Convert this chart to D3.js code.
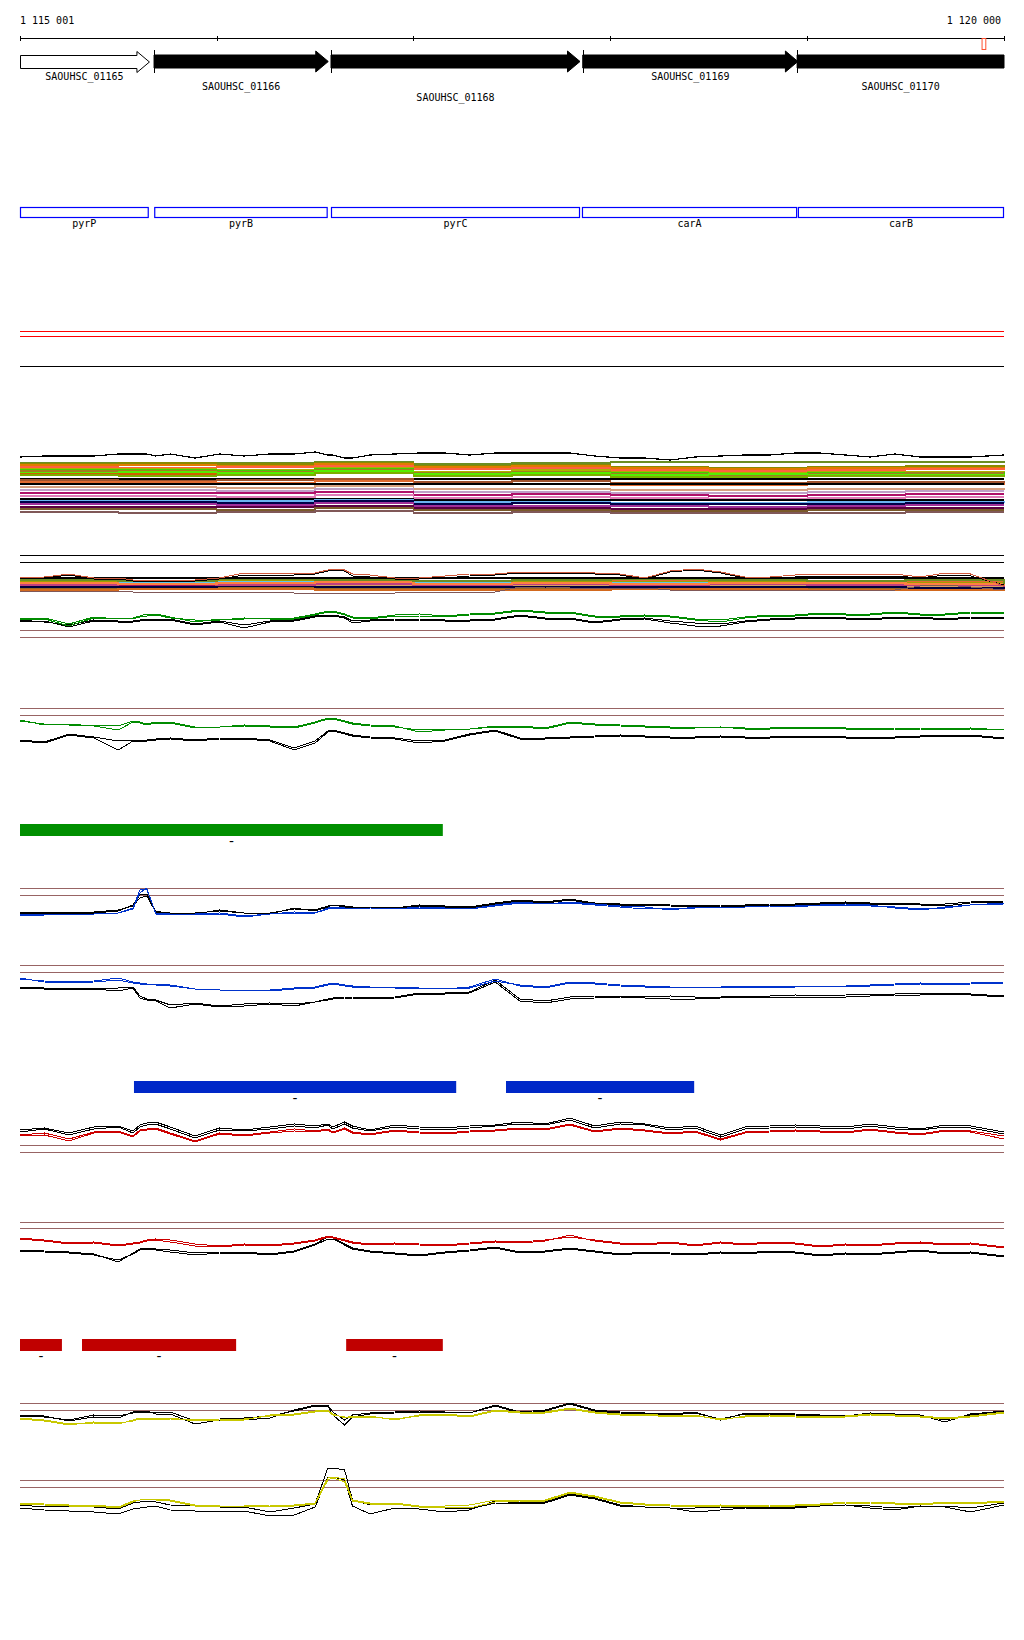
<!DOCTYPE html>
<html>
<head>
<meta charset="utf-8">
<script src="https://cdn.jsdelivr.net/npm/d3@7"></script>
<style>
  body { margin: 0; background: #fff; }
  svg { display: block; font-family: "DejaVu Sans Mono", monospace; font-size: 10px; }
  path, line { shape-rendering: crispEdges; }
</style>
</head>
<body>
<div id="chart"></div>
<script>
// region shown
const START = 1115001, END = 1120000;
const rulerTicks = [1115001, 1116000, 1117000, 1118000, 1119000, 1120000];
const redMarkStart = 1119886, redMarkEnd = 1119905;

// genes
const geneNames = ["SAOUHSC_01165", "SAOUHSC_01166", "SAOUHSC_01168", "SAOUHSC_01169", "SAOUHSC_01170"];
const geneStarts = [1114950, 1115682, 1116581, 1117860, 1118949];
const geneEnds = [1115656, 1116567, 1117846, 1118953, 1120150];
const geneFilled = [false, true, true, true, true];
const geneLabelRow = [0, 1, 2, 0, 1];

// operon / gene names
const nameLabels = ["pyrP", "pyrB", "pyrC", "carA", "carB"];
const nameStarts = [1114950, 1115683, 1116581, 1117856, 1118953];
const nameEnds = [1115655, 1116564, 1117846, 1118949, 1120150];

// feature bars
const greenStarts = [1114950], greenEnds = [1117149], greenLabels = ["-"];
const blueStarts = [1115580, 1117470], blueEnds = [1117217, 1118426], blueLabels = ["-", "-"];
const redStarts = [1114950, 1115316, 1116658], redEnds = [1115214, 1116099, 1117149], redLabels = ["-", "-", "-"];

// sample positions for the profile lines
const samplePos = [1115001,1115125,1115250,1115375,1115500,1115575,1115610,1115645,1115690,1115765,
  1115890,1116015,1116140,1116270,1116395,1116500,1116565,1116590,1116650,1116690,
  1116780,1116905,1117030,1117160,1117285,1117415,1117540,1117670,1117795,1117920,
  1118050,1118175,1118305,1118430,1118560,1118685,1118810,1118940,1119065,1119195,
  1119320,1119445,1119575,1119700,1119830,1120000];
// coarse positions for the stacked sample lines
const bandPos = [1115001,1115500,1116000,1116500,1117000,1117500,1118000,1118500,1119000,1119500,1120000];

// top reference lines
const topRedRefs = [39, 34];
const topBlackRefs = [4];

// stacked band A
const bandATop = [63,64,64,64,66,66,66,66,64,66, 62,66,64,66,66,68,65,65,62,62,
  65,66,67,67,65,67,67,67,67,64, 62,62,60,63,64,65,65,67,67,65, 63,66,63,63,63,65];
const bandAColors = ["#6b8e23","#8a8a00","#e07b00","#ff6040","#b0b000","#44cc00","#a08020","#55ee00","#d06000","#7cae00",
  "#000000","#a0522d","#e06a30","#000000","#d8a080","#c0a0c8","#b0106a","#e07cb8","#000000","#6cb4f0",
  "#000048","#a0309a","#5a0040","#7a5a2a","#805858"];
const bandAValues = [
  [57,57,57,58,56,57,58,58,58,58,59],
  [56,57,56,57,54,55,53,52,53,54,55],
  [55,55,54,56,53,54,52,51,52,52,53],
  [53,52,53,54,51,52,50,49,50,51,50],
  [51,51,50,52,48,50,48,47,48,48,49],
  [50,50,49,51,47,48,47,46,47,47,48],
  [49,49,48,50,47,48,46,45,46,47,47],
  [47,48,47,49,46,47,45,46,45,45,46],
  [46,46,45,47,44,45,43,43,44,44,45],
  [45,44,45,47,44,45,43,43,44,44,45],
  [41,41,41,41,41,41,41,41,41,41,41],
  [40,39,40,41,38,39,37,37,38,38,39],
  [38,38,37,39,36,36,35,35,36,36,37],
  [36,36,36,36,36,36,36,36,36,36,36],
  [33,33,32,34,31,31,30,30,31,31,32],
  [30,30,29,31,28,28,27,27,28,29,29],
  [27,27,27,28,25,26,25,24,25,26,26],
  [24,24,23,25,22,23,22,21,22,23,23],
  [21,21,21,21,20,20,20,20,20,20,20],
  [19,19,19,20,18,18,17,17,18,18,19],
  [18,18,17,19,16,17,16,16,16,17,17],
  [16,16,15,17,14,14,14,13,14,15,15],
  [13,13,13,14,12,12,11,11,12,12,12],
  [11,11,10,12,10,10,9,9,10,10,10],
  [8,7,8,9,7,8,7,7,7,8,8]
];

// stacked band B
const bandBRefs = [45, 38];
const bandBUpper = [22,23,26,22,22,20,20,20,20,20, 20,22,27,27,26,27,30,31,30,26,
  25,22,22,24,26,26,28,27,28,27, 26,22,29,31,28,23,23,25,26,26, 26,26,23,27,26,14];
const bandBBlack = [21,22,25,21,21,19,19,19,19,19, 19,21,25,25,25,26,29,30,29,24,
  23,21,21,22,24,25,27,26,27,26, 25,21,28,30,27,22,22,23,24,24, 24,24,22,25,24,15];
const bandBLower = [9,9,9,9,9,8,8,8,8,8, 8,8,8,8,7,7,7,7,7,7,
  7,7,8,8,8,8,13,13,12,12, 12,12,10,10,10,10,10,10,10,10, 10,10,14,15,13,10];
const bandBFlat = [22,22,22,22,22,22,22,22,22,22,22];
const bandBColors = ["#e06a30","#a0a000","#5ec8f0","#b4a0c8","#88c400","#d8a060","#a01060","#e0703a","#9a6a20","#000040","#c04080","#ff8040","#6b8e23","#d2691e"];
const bandBValues = [
  [19,18,20,19,18,19,20,19,18,19,17],
  [18,17,19,18,17,18,18,18,17,17,15],
  [17,17,18,17,17,17,17,17,17,16,14],
  [16,16,17,16,16,16,16,16,16,15,13],
  [15,15,16,15,15,15,15,15,15,14,12],
  [14,14,15,14,14,14,14,14,14,13,11],
  [13,14,13,13,13,13,13,13,13,12,11],
  [12,12,13,12,12,12,12,13,12,12,10],
  [11,12,12,11,11,11,12,12,11,11,10],
  [13,13,14,13,13,13,13,13,13,12,11],
  [15,16,15,16,15,16,15,16,15,15,13],
  [17,16,17,18,16,17,16,17,17,16,14],
  [20,19,21,20,19,20,21,20,19,20,16],
  [10,11,11,10,10,10,11,11,10,10,9]
];

// profile tracks (values: signal above each track's zero)
const trackCRefs = [10, 3];
const trackCGreenA = [22,22,16,23,21,22,24,26,26,23, 18,21,21,22,22,26,29,29,26,23, 22,25,26,24,26,27,30,28,28,24, 24,25,24,21,20,23,25,25,27,26, 26,28,26,26,28,28];
const trackCGreenB = [21,21,14,22,22,21,23,24,25,22, 20,20,22,21,21,25,28,28,25,22, 21,24,24,23,25,26,29,27,27,23, 23,24,23,20,18,22,24,24,26,25, 25,27,25,25,27,27];
const trackCBlackA = [20,18,15,20,19,19,20,21,21,21, 16,19,15,19,20,24,25,25,23,19, 20,21,21,20,20,21,25,22,22,18, 21,22,19,17,16,19,21,22,23,22, 21,23,23,21,23,23];
const trackCBlackB = [19,19,13,19,18,18,19,20,20,20, 15,18,12,18,19,23,24,24,22,17, 19,20,20,19,19,20,24,21,21,17, 20,21,17,14,14,18,20,21,22,21, 20,22,22,20,22,22];

const trackDRefs = [52, 45];
const trackDGreenA = [39,36,35,35,34,39,38,36,38,38, 33,33,35,34,33,38,42,42,39,37, 35,34,28,30,31,34,34,32,38,36, 35,34,33,33,33,32,32,33,33,32, 31,32,32,31,32,30];
const trackDGreenB = [40,35,36,34,30,38,37,35,37,37, 32,33,34,33,32,37,41,41,38,36, 34,33,30,31,31,33,33,31,37,35, 34,33,32,32,33,31,31,32,32,31, 30,31,31,30,31,30];
const trackDBlackA = [20,18,26,23,19,20,20,20,21,22, 20,22,22,20,12,19,29,30,27,25, 23,22,19,20,26,30,22,22,23,24, 25,24,23,23,24,23,23,24,24,23, 23,23,24,25,25,22];
const trackDBlackB = [19,17,25,22,10,19,19,19,20,21, 19,21,21,19,10,17,28,29,26,24, 22,21,17,19,25,29,21,21,22,23, 24,23,22,22,23,22,22,23,23,22, 22,22,23,24,24,21];

const trackERefs = [37, 30];
const trackEBlackA = [12,12,13,13,15,19,27,29,13,12, 12,14,12,12,16,15,19,20,19,18, 18,17,20,19,18,22,25,23,26,22, 21,21,20,19,20,20,21,21,22,23, 22,22,21,21,23,24];
const trackEBlackB = [13,12,12,12,14,20,30,31,14,11, 11,15,12,11,17,14,18,20,18,17, 17,16,19,18,17,21,24,22,25,21, 20,20,19,18,19,19,20,20,21,22, 21,21,20,19,22,23];
const trackEBlueA = [11,11,11,11,12,17,35,36,12,11, 11,12,9,11,13,12,17,18,17,17, 17,16,18,17,16,20,23,21,23,21, 19,18,15,18,18,18,19,19,20,21, 20,17,15,18,20,22];
const trackEBlueB = [10,10,11,11,12,16,32,37,11,10, 11,11,8,11,12,12,16,17,17,16, 17,16,17,17,16,19,22,21,22,20, 18,16,17,17,18,18,19,18,20,20, 19,18,16,17,20,21];

const trackFRefs = [50, 43];
const trackFBlackA = [28,27,27,27,27,28,19,16,15,10, 12,9,11,12,11,13,16,17,18,18, 17,18,22,22,23,35,16,14,18,19, 19,18,19,18,18,19,19,20,19,20, 21,21,22,22,21,19];
const trackFBlackB = [27,26,26,26,24,27,17,15,14,7, 11,8,9,11,9,13,15,16,17,17, 16,17,21,21,22,33,14,12,16,17, 18,17,16,16,17,18,18,17,18,18, 19,20,20,21,20,18];
const trackFBlueA = [36,34,33,34,37,33,32,31,31,30, 26,25,25,25,27,28,31,32,30,29, 28,28,27,27,27,34,30,28,33,32, 30,29,28,28,28,29,29,28,29,29, 30,31,32,31,32,33];
const trackFBlueB = [37,33,32,33,35,32,31,31,30,29, 26,25,25,24,26,27,30,31,29,28, 28,27,27,26,28,36,29,27,32,31, 29,28,28,28,28,28,28,28,29,28, 29,30,31,30,31,32];

const trackGRefs = [15, 8];
const trackGBlackA = [30,32,27,33,34,29,35,37,38,33, 24,32,30,33,36,34,36,33,38,34, 30,35,33,32,34,35,38,36,42,34, 38,36,32,34,25,33,34,35,34,33, 36,33,31,35,34,28];
const trackGBlackB = [28,31,25,31,33,27,33,35,36,31, 22,30,29,31,34,32,35,31,36,32, 29,33,31,30,32,34,36,35,40,32, 36,35,30,32,23,31,32,33,32,31, 34,31,30,33,32,26];
const trackGRedA = [25,27,21,28,29,24,30,31,32,27, 19,27,25,28,31,29,31,28,32,28, 26,30,28,27,29,30,32,31,36,29, 32,30,27,29,21,28,29,30,29,28, 31,28,26,30,29,24];
const trackGRedB = [24,25,19,27,28,23,29,30,31,26, 18,26,24,27,29,28,30,27,31,27, 25,29,27,26,28,29,31,30,35,28, 31,29,26,28,20,27,28,29,28,27, 30,27,25,29,28,21];

const trackHRefs = [48, 42];
const trackHRedA = [32,30,27,28,25,27,28,30,31,30, 26,24,26,25,27,30,34,33,30,28, 26,27,26,25,27,29,28,30,33,30, 27,26,28,25,28,26,28,27,24,26, 25,27,28,26,27,23];
const trackHRedB = [31,29,26,27,24,26,27,29,30,28, 24,23,25,24,26,29,33,32,29,27, 25,26,25,24,26,28,27,29,35,29, 26,25,27,24,27,25,27,26,23,25, 24,26,27,25,26,22];
const trackHBlackA = [20,19,18,16,8,17,21,22,21,20, 17,18,18,16,19,26,33,32,26,22, 19,17,15,18,20,23,18,19,22,19, 16,18,17,16,18,17,19,18,15,17, 16,18,20,17,18,14];
const trackHBlackB = [19,18,17,15,10,16,20,21,20,18, 15,17,17,15,18,25,31,31,25,21, 18,16,14,17,19,22,17,18,21,18, 15,17,16,15,17,16,18,17,14,16, 15,17,19,16,17,13];

const trackIRefs = [32, 25];
const trackIBlackA = [20,19,14,18,17,23,24,24,21,21, 11,15,15,17,25,30,30,23,15,20, 22,23,24,23,22,30,23,25,32,25, 23,22,21,23,15,22,22,21,20,19, 22,21,20,13,21,24];
const trackIBlackB = [19,18,15,20,19,22,23,23,22,23, 14,16,17,19,24,29,29,20,10,18, 21,22,23,23,22,29,22,24,31,24, 22,21,20,22,16,21,21,20,19,18, 21,20,19,15,20,23];
const trackIYellowA = [17,15,11,12,11,15,17,17,17,17, 14,15,15,20,21,24,25,21,17,19, 19,15,20,21,19,25,23,23,27,23, 21,21,19,20,15,19,20,19,18,19, 21,20,19,17,19,23];
const trackIYellowB = [16,14,10,13,12,14,16,16,16,16, 15,16,16,19,20,23,24,20,18,18, 18,16,19,20,18,24,22,22,26,22, 20,20,18,19,16,18,19,18,17,18, 20,19,18,16,18,22];

const trackJRefs = [40, 33];
const trackJBlackA = [15,13,14,13,11,17,18,19,18,15, 14,13,13,8,12,16,52,52,50,20, 15,16,14,12,11,17,16,17,25,21, 14,13,12,12,13,13,13,13,14,15, 14,12,14,14,12,17];
const trackJBlackB = [12,10,9,8,6,11,12,13,14,10, 9,9,9,4,5,13,43,43,40,14, 6,12,11,8,10,19,17,18,26,22, 15,13,12,8,10,12,11,12,14,15, 12,10,14,13,8,15];
const trackJYellowA = [17,16,15,15,13,19,20,21,21,20, 15,14,14,15,15,17,42,43,41,20, 17,17,14,14,15,20,20,20,28,24, 18,16,15,14,15,14,15,15,16,18, 18,17,16,18,17,19];
const trackJYellowB = [16,15,14,14,12,18,20,21,20,19, 14,14,14,14,14,16,40,42,38,19, 16,16,13,13,12,18,19,19,27,23, 17,15,14,13,14,13,14,14,15,17, 17,16,15,17,16,18];

// ---- drawing ----
const BROWN = "#986464", GREEN = "#008c00", BLUE = "#0033cc", RED = "#cc0000", YELLOW = "#c8c800";

const x = d3.scaleLinear().domain([START, END]).range([20, 1004]).clamp(true);
const fmt = v => d3.format(",")(v).replace(/,/g, " ");

const svg = d3.select("#chart").append("svg")
  .attr("width", 1024)
  .attr("height", 1640);

// ruler
svg.append("line")
  .attr("x1", x(START)).attr("x2", x(END))
  .attr("y1", 38.5).attr("y2", 38.5)
  .attr("stroke", "#000");
svg.selectAll(".rtick").data(rulerTicks).join("line")
  .attr("class", "rtick")
  .attr("x1", d => Math.round(x(d)) + 0.5).attr("x2", d => Math.round(x(d)) + 0.5)
  .attr("y1", 36).attr("y2", 41)
  .attr("stroke", "#000");
svg.append("text").attr("x", x(START)).attr("y", 24).text(fmt(START));
svg.append("text").attr("x", x(END) - 3).attr("y", 24).attr("text-anchor", "end").text(fmt(END));
svg.append("rect")
  .attr("x", x(redMarkStart) + 0.5).attr("y", 38.5)
  .attr("width", x(redMarkEnd) - x(redMarkStart)).attr("height", 11)
  .attr("fill", "#fff").attr("stroke", "#ff5030");

// genes
const genes = geneNames.map((n, i) => ({
  name: n, start: geneStarts[i], end: geneEnds[i], filled: geneFilled[i], row: geneLabelRow[i]
}));

function arrowPoints(d) {
  const x0 = x(d.start), x1 = x(d.end);
  if (d.end > END) return [[x0, 55], [x1, 55], [x1, 68], [x0, 68]];
  const hx = x1 - 12.5;
  return [[x0, 55], [hx, 55], [hx, 51], [x1, 61.5], [hx, 72], [hx, 68], [x0, 68]];
}

const gGenes = svg.append("g");
gGenes.selectAll("polygon").data(genes).join("polygon")
  .attr("points", d => arrowPoints(d).map(p => p.join(",")).join(" "))
  .attr("fill", d => d.filled ? "#000" : "#fff")
  .attr("stroke", "#000")
  .attr("stroke-width", 1)
  .attr("transform", d => d.filled ? null : "translate(0.5,0.5)");
gGenes.selectAll(".gtick").data(genes.filter(d => d.filled && d.start >= START)).join("line")
  .attr("class", "gtick")
  .attr("x1", d => Math.round(x(d.start)) + 0.5).attr("x2", d => Math.round(x(d.start)) + 0.5)
  .attr("y1", 50).attr("y2", 73)
  .attr("stroke", "#000");
const rowBase = [80, 89.5, 101];
gGenes.selectAll("text").data(genes).join("text")
  .attr("x", d => (x(d.start) + x(d.end)) / 2)
  .attr("y", d => rowBase[d.row])
  .attr("text-anchor", "middle")
  .text(d => d.name);

// gene names boxes
const names = nameLabels.map((n, i) => ({ name: n, start: nameStarts[i], end: nameEnds[i] }));
const gNames = svg.append("g");
gNames.selectAll("rect").data(names).join("rect")
  .attr("x", d => x(d.start) + 0.5)
  .attr("y", 207.5)
  .attr("width", d => x(d.end) - x(d.start) - 1)
  .attr("height", 10)
  .attr("fill", "none")
  .attr("stroke", "#0000ff")
  .attr("stroke-width", 1.2);
gNames.selectAll("text").data(names).join("text")
  .attr("x", d => (x(d.start) + x(d.end)) / 2)
  .attr("y", 227)
  .attr("text-anchor", "middle")
  .text(d => d.name);

// generic horizontal reference lines
function refLines(values, base, color) {
  const y = d3.scaleLinear().domain([0, 100]).range([base, base - 100]);
  svg.append("g").selectAll("line").data(values).join("line")
    .attr("x1", x(START)).attr("x2", x(END))
    .attr("y1", d => Math.round(y(d)) + 0.5).attr("y2", d => Math.round(y(d)) + 0.5)
    .attr("stroke", color);
}

function profile(values, pos, base, color, width, curve) {
  const y = d3.scaleLinear().domain([0, 100]).range([base, base - 100]);
  const line = d3.line()
    .x((d, i) => x(pos[i]))
    .y(d => y(d))
    .curve(curve || d3.curveLinear);
  svg.append("path")
    .datum(values)
    .attr("d", line)
    .attr("fill", "none")
    .attr("stroke", color)
    .attr("stroke-width", width || 1);
}

// top reference lines
refLines(topRedRefs, 370, "#ff0000");
refLines(topBlackRefs, 370, "#000");

// band A
bandAValues.forEach((v, i) => profile(v, bandPos, 520, bandAColors[i], 1.3, d3.curveStepAfter));
profile(bandATop, samplePos, 520, "#000", 1.2);

// band B
refLines(bandBRefs, 600, "#000");
bandBValues.forEach((v, i) => profile(v, bandPos, 600, bandBColors[i], 2.4, d3.curveStepAfter));
profile(bandBFlat, bandPos, 600, "#000", 2, d3.curveStepAfter);
profile(bandBLower, samplePos, 600, "#805858", 1);
profile(bandBBlack, samplePos, 600, "#000", 1);
profile(bandBUpper, samplePos, 600, "#d05a3c", 1);

// profile tracks
const tracks = [
  { base: 640, refs: trackCRefs, black: [trackCBlackA, trackCBlackB], col: [trackCGreenA, trackCGreenB], color: GREEN },
  { base: 760, refs: trackDRefs, black: [trackDBlackA, trackDBlackB], col: [trackDGreenA, trackDGreenB], color: GREEN },
  { base: 925, refs: trackERefs, black: [trackEBlackA, trackEBlackB], col: [trackEBlueA, trackEBlueB], color: BLUE },
  { base: 1015, refs: trackFRefs, black: [trackFBlackA, trackFBlackB], col: [trackFBlueA, trackFBlueB], color: BLUE },
  { base: 1160, refs: trackGRefs, black: [trackGBlackA, trackGBlackB], col: [trackGRedA, trackGRedB], color: RED },
  { base: 1270, refs: trackHRefs, black: [trackHBlackA, trackHBlackB], col: [trackHRedA, trackHRedB], color: RED },
  { base: 1435, refs: trackIRefs, black: [trackIBlackA, trackIBlackB], col: [trackIYellowA, trackIYellowB], color: YELLOW },
  { base: 1520, refs: trackJRefs, black: [trackJBlackA, trackJBlackB], col: [trackJYellowA, trackJYellowB], color: YELLOW }
];
tracks.forEach(t => {
  refLines(t.refs, t.base, BROWN);
  t.black.forEach(v => profile(v, samplePos, t.base, "#000", 1));
  t.col.forEach(v => profile(v, samplePos, t.base, t.color, 1));
});

// feature bars
function bars(starts, ends, labels, top, color) {
  const data = starts.map((s, i) => ({ start: s, end: ends[i], label: labels[i] }));
  const g = svg.append("g");
  g.selectAll("rect").data(data).join("rect")
    .attr("x", d => x(d.start))
    .attr("y", top)
    .attr("width", d => x(d.end) - x(d.start))
    .attr("height", 12)
    .attr("fill", color);
  g.selectAll("text").data(data).join("text")
    .attr("x", d => (x(d.start) + x(d.end)) / 2)
    .attr("y", top + 22)
    .attr("text-anchor", "middle")
    .attr("font-size", "14px")
    .text(d => d.label);
}
bars(greenStarts, greenEnds, greenLabels, 824, "#008f00");
bars(blueStarts, blueEnds, blueLabels, 1081, "#0028c8");
bars(redStarts, redEnds, redLabels, 1339, "#c00000");
</script>
</body>
</html>
